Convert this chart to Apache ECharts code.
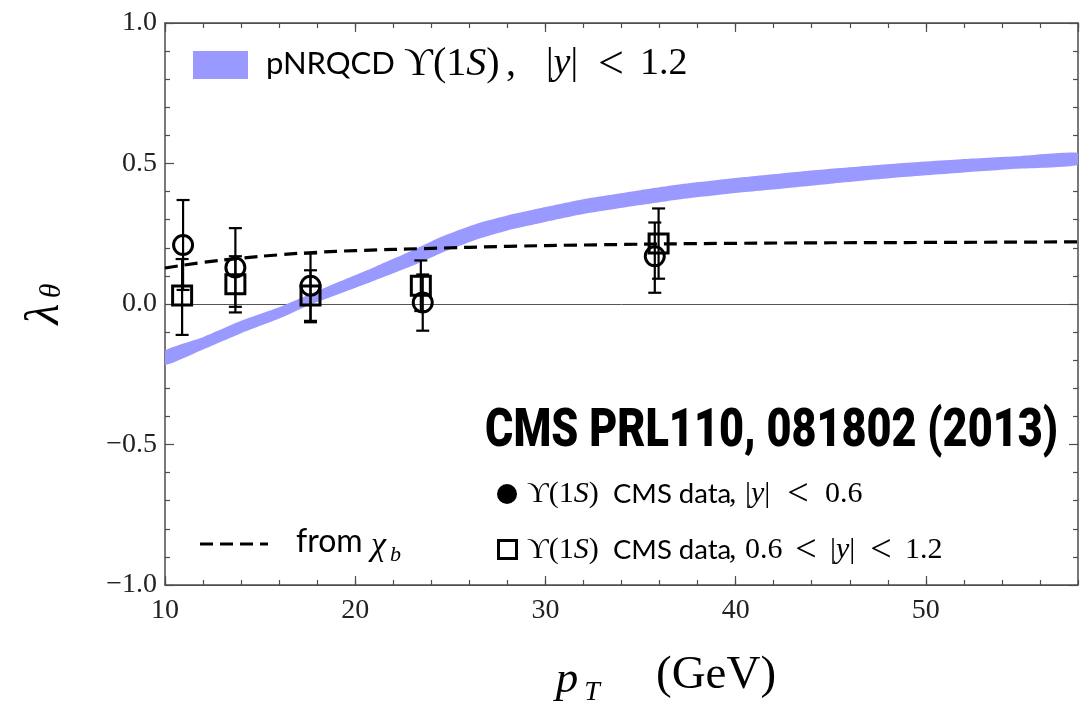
<!DOCTYPE html>
<html>
<head>
<meta charset="utf-8">
<script src="https://cdn.jsdelivr.net/npm/echarts@6/dist/echarts.min.js"></script>
<style>
  html, body { margin: 0; padding: 0; background: #fff; }
  #chart { width: 1084px; height: 703px; }
</style>
</head>
<body>
<div id="chart"></div>
<script>
// pNRQCD prediction band for lambda_theta of Upsilon(1S), |y| < 1.2
const bandPt   = [10, 12, 14, 16, 17.5, 19, 21, 23, 24.5, 26.5, 28, 30, 32, 35, 37, 40, 42.5, 45, 48.5, 52, 55, 58];
const bandLow  = [-0.217, -0.162, -0.104, -0.052, -0.006, 0.032, 0.083, 0.136, 0.181, 0.232, 0.262, 0.292, 0.320, 0.352, 0.372, 0.395, 0.411, 0.428, 0.450, 0.468, 0.482, 0.495];
const bandHigh = [-0.166, -0.118, -0.060, -0.012, 0.032, 0.075, 0.131, 0.190, 0.238, 0.288, 0.315, 0.345, 0.373, 0.405, 0.425, 0.448, 0.465, 0.481, 0.500, 0.516, 0.527, 0.538];

// feed-down contribution from chi_b decays
const chiPt = [10, 12, 14, 16, 18, 20, 24, 28, 32, 40, 50, 58];
const chiLambda = [0.128, 0.148, 0.163, 0.175, 0.184, 0.190, 0.198, 0.205, 0.210, 0.216, 0.219, 0.221];

// CMS data, |y| < 0.6 (open circles)
const cenPt   = [10.95, 13.7, 17.65, 23.55, 35.75];
const cenVal  = [0.21, 0.13, 0.065, 0.005, 0.17];
const cenLow  = [0.05, -0.01, -0.06, -0.095, 0.04];
const cenHigh = [0.37, 0.27, 0.18, 0.105, 0.29];

// CMS data, 0.6 < |y| < 1.2 (open squares)
const fwdPt   = [10.9, 13.7, 17.65, 23.45, 35.95];
const fwdVal  = [0.03, 0.07, 0.03, 0.065, 0.215];
const fwdLow  = [-0.11, -0.03, -0.065, -0.025, 0.09];
const fwdHigh = [0.16, 0.17, 0.12, 0.155, 0.34];

// axis ticks
const xMin = 10, xMax = 58, xMajor = 10, xMinor = 2;
const yMin = -1, yMax = 1, yMajor = 0.5;

const SERIF = "'Liberation Serif', 'DejaVu Serif', serif";
const SANS = "Lato, 'Noto Sans', sans-serif";
const FRAME = '#4d4d4d';
const BAND = '#9999ff';

function fmtY(v) {
  const s = Math.abs(v).toFixed(1);
  return v < 0 ? '\u2212' + s : s;
}

function xAxisDef(pos, interval, major) {
  return {
    type: 'value', position: pos, min: xMin, max: xMax, interval: interval,
    axisLine: { show: major, onZero: false, lineStyle: { color: FRAME, width: 1.5 } },
    axisTick: { show: true, inside: true, length: major ? 9 : 5, lineStyle: { color: FRAME, width: 1.2 } },
    axisLabel: {
      show: major && pos === 'bottom', showMaxLabel: false, margin: 12,
      fontFamily: SERIF, fontSize: 28, color: '#222'
    },
    splitLine: { show: false }
  };
}

function yAxisDef(pos) {
  return {
    type: 'value', position: pos, min: yMin, max: yMax, interval: yMajor,
    axisLine: { show: true, onZero: false, lineStyle: { color: FRAME, width: 1.5 } },
    axisTick: { show: true, inside: true, length: 9, lineStyle: { color: FRAME, width: 1.2 } },
    minorTick: { show: true, splitNumber: 5, length: 5, lineStyle: { color: FRAME, width: 1.2 } },
    axisLabel: {
      show: pos === 'left', margin: 8, formatter: fmtY,
      fontFamily: SERIF, fontSize: 28, color: '#222'
    },
    splitLine: { show: false }
  };
}

function errorBars(pts, lows, highs) {
  return pts.map((p, i) => [p, lows[i], highs[i]]);
}

function renderErrorBar(params, api) {
  const x = api.value(0);
  const lo = api.coord([x, api.value(1)]);
  const hi = api.coord([x, api.value(2)]);
  const half = 6.5;
  const style = { stroke: '#000', lineWidth: 2.2 };
  return {
    type: 'group',
    children: [
      { type: 'line', shape: { x1: lo[0], y1: lo[1], x2: hi[0], y2: hi[1] }, style: style },
      { type: 'line', shape: { x1: lo[0] - half, y1: lo[1], x2: lo[0] + half, y2: lo[1] }, style: style },
      { type: 'line', shape: { x1: hi[0] - half, y1: hi[1], x2: hi[0] + half, y2: hi[1] }, style: style }
    ]
  };
}

// band outline: upper edge left to right, lower edge right to left
function renderBand(params, api) {
  const upper = bandPt.map((p, i) => api.coord([p, bandHigh[i]]));
  const lower = bandPt.map((p, i) => api.coord([p, bandLow[i]])).reverse();
  return {
    type: 'polygon',
    shape: { points: upper.concat(lower), smooth: 0.2 },
    style: { fill: BAND }
  };
}

// text helpers for the keys and axis titles
function txt(x, y, text, font, align) {
  return {
    type: 'text', x: x, y: y,
    style: { text: text, font: font, fill: '#000', align: align || 'left', verticalAlign: 'middle' }
  };
}
function upsilon(x, y, size) {
  return {
    type: 'text', x: x, y: y,
    style: {
      text: '{m|\u03D2(1}{i|S}{m|)}', verticalAlign: 'middle', fill: '#000',
      rich: {
        m: { fontFamily: SERIF, fontSize: size, fill: '#000' },
        i: { fontFamily: SERIF, fontSize: size, fontStyle: 'italic', fill: '#000' }
      }
    }
  };
}
function absY(x, y, size) {
  return {
    type: 'text', x: x, y: y,
    style: {
      text: '{m||}{i|y}{m||}', verticalAlign: 'middle', fill: '#000',
      rich: {
        m: { fontFamily: SERIF, fontSize: size, fill: '#000' },
        i: { fontFamily: SERIF, fontSize: size, fontStyle: 'italic', fill: '#000' }
      }
    }
  };
}

const chart = echarts.init(document.getElementById('chart'), null, { renderer: 'canvas' });

const SM = 'px ' + SERIF;
chart.setOption({
  animation: false,
  backgroundColor: '#fff',
  grid: { left: 165, top: 23, width: 913, height: 562, containLabel: false },
  xAxis: [
    xAxisDef('bottom', xMajor, true),
    xAxisDef('bottom', xMinor, false),
    xAxisDef('top', xMajor, true),
    xAxisDef('top', xMinor, false)
  ],
  yAxis: [
    yAxisDef('left'),
    yAxisDef('right'),
    {
      // zero reference line
      type: 'value', min: yMin, max: yMax, interval: 1, position: 'left',
      axisLine: { show: false }, axisTick: { show: false }, axisLabel: { show: false },
      splitLine: { show: true, lineStyle: { color: '#555', width: 1 } }
    }
  ],
  series: [
    {
      name: 'pNRQCD', type: 'custom', renderItem: renderBand, clip: true,
      data: [[bandPt[0], bandLow[0]]], silent: true, z: 1
    },
    {
      name: 'from chi_b', type: 'line', smooth: true, symbol: 'none', z: 3, silent: true,
      data: chiPt.map((p, i) => [p, chiLambda[i]]),
      lineStyle: { color: '#000', width: 3.2, type: [13, 7] }
    },
    {
      type: 'custom', renderItem: renderErrorBar, z: 4, silent: true,
      data: errorBars(cenPt, cenLow, cenHigh)
    },
    {
      type: 'custom', renderItem: renderErrorBar, z: 4, silent: true,
      data: errorBars(fwdPt, fwdLow, fwdHigh)
    },
    {
      name: '|y| < 0.6', type: 'scatter', symbol: 'circle', symbolSize: 19, z: 5, silent: true,
      data: cenPt.map((p, i) => [p, cenVal[i]]),
      itemStyle: { color: 'rgba(0,0,0,0)', borderColor: '#000', borderWidth: 3, opacity: 1 }
    },
    {
      name: '0.6 < |y| < 1.2', type: 'scatter', symbol: 'rect', symbolSize: 19, z: 5, silent: true,
      data: fwdPt.map((p, i) => [p, fwdVal[i]]),
      itemStyle: { color: 'rgba(0,0,0,0)', borderColor: '#000', borderWidth: 3, opacity: 1 }
    }
  ],
  graphic: [
    // band key
    { type: 'rect', shape: { x: 193, y: 51, width: 55, height: 28 }, style: { fill: BAND } },
    txt(266, 64, 'pNRQCD', '31px ' + SANS),
    upsilon(404, 64, 40),
    txt(506, 64, ',', '40' + SM),
    absY(546, 64, 38),
    txt(611, 66, '<', '46' + SM, 'center'),
    txt(640, 64, '1.2', '38' + SM),

    // reference
    {
      type: 'text', x: 1058, y: 432, scaleX: 0.8,
      style: {
        text: 'CMS PRL110, 081802 (2013)', align: 'right', verticalAlign: 'middle',
        font: "900 54px Roboto, Inter, Lato, sans-serif", fill: '#000'
      }
    },

    // |y| < 0.6 key
    { type: 'circle', shape: { cx: 507, cy: 494, r: 10 }, style: { fill: '#000' } },
    upsilon(527, 494, 30),
    txt(613, 494, 'CMS data', '27.5px ' + SANS),
    txt(729, 494, ',', '30' + SM),
    absY(745, 494, 30),
    txt(798, 495, '<', '38' + SM, 'center'),
    txt(825, 494, '0.6', '30' + SM),

    // 0.6 < |y| < 1.2 key
    { type: 'rect', shape: { x: 498.5, y: 540.5, width: 18, height: 18 }, style: { fill: 'none', stroke: '#000', lineWidth: 3 } },
    upsilon(527, 550, 30),
    txt(613, 550, 'CMS data', '27.5px ' + SANS),
    txt(729, 550, ',', '30' + SM),
    txt(745, 550, '0.6', '30' + SM),
    txt(806, 551, '<', '38' + SM, 'center'),
    absY(830, 550, 30),
    txt(881, 551, '<', '38' + SM, 'center'),
    txt(905, 550, '1.2', '30' + SM),

    // chi_b key
    { type: 'line', shape: { x1: 200, y1: 544, x2: 268, y2: 544 }, style: { stroke: '#000', lineWidth: 3.2, lineDash: [13, 7] } },
    txt(296, 542, 'from', '32px ' + SANS),
    txt(371, 546, '\u03C7', 'italic 34' + SM),
    txt(390, 555, 'b', 'italic 22' + SM),

    // axis titles
    {
      type: 'group', x: 45, y: 302, rotation: Math.PI / 2,
      children: [
        { type: 'text', x: -12, y: 0, style: { text: '\u03BB', align: 'center', verticalAlign: 'middle', font: 'italic 48' + SM, fill: '#000' } },
        { type: 'text', x: 11, y: 7, style: { text: '\u03B8', align: 'center', verticalAlign: 'middle', font: 'italic 30' + SM, fill: '#000' } }
      ]
    },
    { type: 'text', x: 567, y: 680, style: { text: 'p', align: 'center', verticalAlign: 'middle', font: 'italic 45' + SM, fill: '#000' } },
    { type: 'text', x: 592, y: 693, style: { text: 'T', align: 'center', verticalAlign: 'middle', font: 'italic 28' + SM, fill: '#000' } },
    { type: 'text', x: 656, y: 676, style: { text: '(GeV)', align: 'left', verticalAlign: 'middle', font: '47' + SM, fill: '#000' } }
  ]
});
</script>
</body>
</html>
